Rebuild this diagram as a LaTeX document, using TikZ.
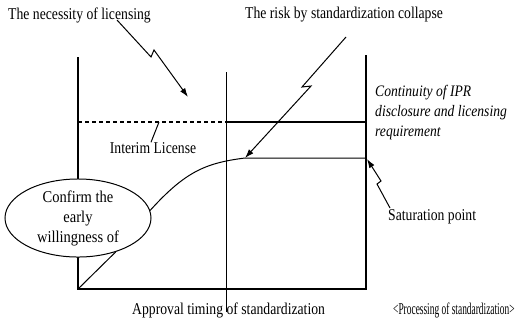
\documentclass[tikz,border=0pt]{standalone}
\usepackage{graphicx}
\usepackage{fontspec}
\setmainfont{Liberation Serif}
\usetikzlibrary{shapes.geometric,arrows.meta}
\newcommand\cnd[2][0.83]{\scalebox{#1}[1]{#2}}
\begin{document}
\begin{tikzpicture}[x=1pt,y=-1pt,
  lbl/.style={font=\fontsize{16.5}{19}\selectfont, inner sep=0pt},
  itl/.style={font=\fontsize{16}{20}\selectfont\itshape, inner sep=0pt, align=left},
  axis/.style={line width=1.4pt},
  thin/.style={line width=1pt},
  bolt/.style={line width=1pt, -{Latex[length=9pt,width=6pt]}},
  dashline/.style={line width=1.2pt, dash pattern=on 4pt off 3pt}]
\useasboundingbox (0,0) rectangle (518,325);
% coordinates
\coordinate (O) at (78,289);
\coordinate (LT) at (78,57);
\coordinate (MT) at (226,72);
\coordinate (MB) at (226,312);
\coordinate (RT) at (366,55);
\coordinate (RB) at (366,289);
\coordinate (DL) at (78,122);
\coordinate (DM) at (226,122);
\coordinate (DR) at (366,122);
\coordinate (K) at (245,158);
\coordinate (S) at (366,158);
\coordinate (LD) at (159,122);
% frame
\draw[axis] (LT) -- (O) -- (RB) -- (RT);
\draw[thin] (MT) -- (MB);
\draw[dashline] (DL) -- (DM);
\draw[axis] (DM) -- (DR);
% ellipse
\node[ellipse, draw, thin, fill=white, minimum width=146pt, minimum height=77pt, inner sep=0pt,
      align=center, font=\fontsize{16.5}{20}\selectfont] (conf) at (78,218)
      {\cnd[0.88]{Confirm the}\\\cnd[0.88]{early}\\\cnd[0.88]{willingness of}};
% curve
\draw[thin] (O) -- (conf.-42);
\draw[thin] (conf.6) .. controls (185,172) and (205,163) .. (K) -- (S);
% labels
\node[lbl, anchor=west] (nec) at (8,15) {\cnd{The necessity of licensing}};
\node[lbl, anchor=west] (risk) at (245,15) {\cnd{The risk by standardization collapse}};
\node[itl, anchor=west] (cont) at (375,113) {\cnd[0.85]{Continuity of IPR}\\\cnd[0.85]{disclosure and licensing}\\\cnd[0.85]{requirement}};
\node[lbl] (il) at (153,148) {\cnd{Interim License}};
\node[lbl, anchor=west] (sat) at (388,217) {\cnd{Saturation point}};
\node[lbl, anchor=west] (appr) at (132,310) {\cnd{Approval timing of standardization}};
\node[lbl, anchor=west] (proc) at (393,310) {\cnd[0.57]{<Processing of standardization>}};
% leader
\draw[thin] ([xshift=-2pt]il.north) -- (LD);
% lightning arrows
\coordinate (n1) at (117,20);
\coordinate (n1a) at (151,57);
\coordinate (n1b) at (154,50);
\coordinate (n1e) at (188,97);
\draw[bolt] (n1) -- (n1a) -- (n1b) -- (n1e);
\coordinate (r1) at (346,37);
\coordinate (r1a) at (302,87);
\coordinate (r1b) at (311,86);
\coordinate (r1e) at (245,158);
\draw[bolt] (r1) -- (r1a) -- (r1b) -- (r1e);
\coordinate (s1) at (390,208);
\coordinate (s1a) at (377,184);
\coordinate (s1b) at (381,181);
\coordinate (s1e) at (367,159);
\draw[bolt] (s1) -- (s1a) -- (s1b) -- (s1e);
\end{tikzpicture}
\end{document}
